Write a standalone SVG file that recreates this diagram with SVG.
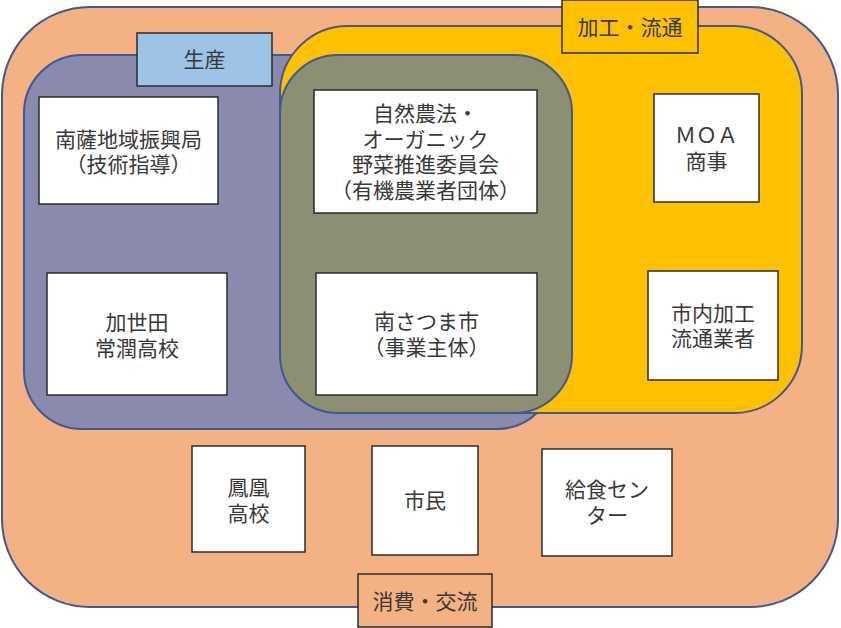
<svg xmlns="http://www.w3.org/2000/svg" width="841" height="628" viewBox="0 0 841 628">
<style>
.region{stroke:#3E5A8E;stroke-width:2}
.node rect{fill:#ffffff;stroke:#2b2b2b;stroke-width:1.5}
.lbl rect{stroke:#2b2b2b;stroke-width:1.5}
text{font-family:"Liberation Sans","Noto Sans CJK JP",sans-serif;font-size:21px;fill:#383838;text-anchor:middle;dominant-baseline:central}
</style>
<rect width="841" height="628" fill="#ffffff"/>
<g id="regions">
<rect id="consume-region" class="region" x="2" y="7" width="836" height="600" rx="88" ry="88" fill="#F4B183"/>
<rect id="produce-region" class="region" x="24" y="55" width="531" height="374" rx="58" ry="58" fill="#8A8AAE"/>
<rect id="process-region" class="region" x="280" y="26" width="522" height="387" rx="68" ry="68" fill="#FFC000"/>
<rect id="overlap-region" class="region" x="280" y="55" width="292" height="358" rx="58" ry="58" fill="#8C8F73"/>
</g>
<g id="connectors"></g>
<g id="label-produce" class="lbl">
<rect x="137" y="33" width="135" height="53" fill="#9DC3E6"/>
<text x="204.5" y="59.5">生産</text>
</g>
<g id="label-process" class="lbl">
<rect x="562" y="0" width="136" height="53" fill="#FFC000"/>
<text x="630" y="27">加工・流通</text>
</g>
<g id="label-consume" class="lbl">
<rect x="358" y="574" width="134" height="53" fill="#F4B183"/>
<text x="425" y="601">消費・交流</text>
</g>
<g id="node-nansatsu" class="node">
<rect x="39" y="97" width="179" height="107"/>
<text x="128.5" y="139">南薩地域振興局<tspan x="128.5" dy="25">（技術指導）</tspan></text>
</g>
<g id="node-shizen" class="node">
<rect x="314" y="90" width="223" height="123"/>
<text x="425.5" y="113">自然農法・<tspan x="425.5" dy="25.5">オーガニック</tspan><tspan x="425.5" dy="25.5">野菜推進委員会</tspan><tspan x="425.5" dy="25.5">（有機農業者団体）</tspan></text>
</g>
<g id="node-moa" class="node">
<rect x="654" y="94" width="105" height="108"/>
<text x="706.5" y="135">ＭＯＡ<tspan x="706.5" dy="26">商事</tspan></text>
</g>
<g id="node-kaseda" class="node">
<rect x="47" y="273" width="180" height="122"/>
<text x="137" y="322">加世田<tspan x="137" dy="26">常潤高校</tspan></text>
</g>
<g id="node-minamisatsuma" class="node">
<rect x="316" y="273" width="221" height="122"/>
<text x="426.5" y="321">南さつま市<tspan x="426.5" dy="26">（事業主体）</tspan></text>
</g>
<g id="node-shinai" class="node">
<rect x="648" y="271" width="130" height="109"/>
<text x="713" y="313">市内加工<tspan x="713" dy="25">流通業者</tspan></text>
</g>
<g id="node-houou" class="node">
<rect x="192" y="446" width="113" height="106"/>
<text x="248.5" y="487">鳳凰<tspan x="248.5" dy="26">高校</tspan></text>
</g>
<g id="node-shimin" class="node">
<rect x="372" y="446" width="106" height="109"/>
<text x="425" y="500">市民</text>
</g>
<g id="node-kyushoku" class="node">
<rect x="542" y="449" width="130" height="107"/>
<text x="607" y="489">給食セン<tspan x="607" dy="26">ター</tspan></text>
</g>
</svg>
